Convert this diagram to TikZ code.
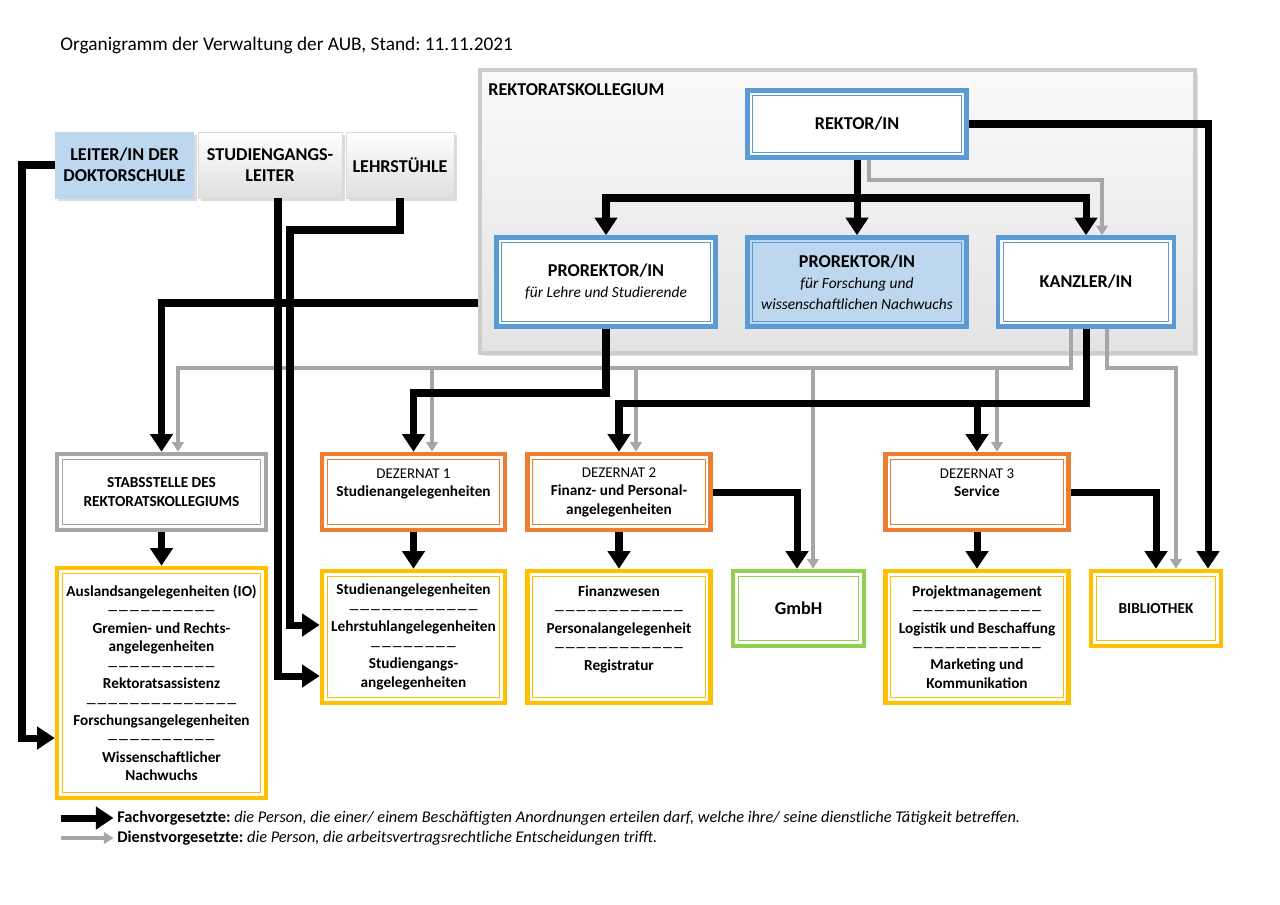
\documentclass[tikz,border=0pt]{standalone}
\usepackage{fontspec}
\setmainfont{Carlito}
\usetikzlibrary{arrows.meta,shadows}
\frenchspacing

\definecolor{rkblue}{HTML}{5B9BD5}
\definecolor{rkbluefill}{HTML}{BDD7EE}
\definecolor{dezorange}{HTML}{ED7D31}
\definecolor{unityellow}{HTML}{FFC000}
\definecolor{gmbhgreen}{HTML}{92D050}
\definecolor{stabgray}{HTML}{A5A5A5}
\definecolor{dienstgray}{HTML}{A6A6A6}

\newcommand{\trenn}[1]{{\fontsize{6.8}{10.5}\selectfont #1}}

\tikzset{
  fach/.style={line width=4pt, -{Triangle[width=12.5pt,length=10pt]}},
  dienst/.style={draw=dienstgray, line width=1.9pt, -{Triangle[width=6.5pt,length=5.5pt]}},
  dbox/.style={draw=#1, fill=white, line width=2.6pt, inner sep=0pt, align=center,
    path picture={\draw[#1, line width=0.6pt]
      ([shift={(2.9pt,-2.9pt)}]path picture bounding box.north west) rectangle
      ([shift={(-2.9pt,2.9pt)}]path picture bounding box.south east);}},
  topbox/.style={minimum height=1.32cm, inner sep=0pt, align=center, draw=gray!30,
    top color=white, bottom color=gray!25,
    drop shadow={shadow xshift=1.6pt, shadow yshift=-1.6pt, fill=gray!55}},
  lab/.style={font=\bfseries\fontsize{10.3}{12}\selectfont},
  unit/.style={font=\bfseries\fontsize{8.7}{10.5}\selectfont},
  legtext/.style={anchor=west, inner sep=0pt, font=\fontsize{9.3}{11}\selectfont}
}

\begin{document}
\begin{tikzpicture}[x=0.02cm, y=-0.02cm]
\path[use as bounding box, fill=white] (0,0) rectangle (1280,904);

\node[anchor=west, inner sep=0pt, font=\fontsize{11}{13}\selectfont] (title) at (60,45)
  {Organigramm der Verwaltung der AUB, Stand: 11.11.2021};

% Rektoratskollegium
\node[draw=gray!40, line width=2.2pt, top color=gray!4, bottom color=gray!22,
  minimum width=14.3cm, minimum height=5.66cm,
  drop shadow={shadow xshift=1.5pt, shadow yshift=-2pt, fill=gray!50}] (kollegium) at (837.5,211.5) {};
\node[anchor=west, inner sep=0pt, lab] (kolltitle) at (488,90) {REKTORATSKOLLEGIUM};

\node[lab, dbox=rkblue, minimum width=4.38cm, minimum height=1.34cm] (rektor) at (857,124) {REKTOR/IN};
\node[lab, dbox=rkblue, minimum width=4.38cm, minimum height=1.78cm] (prolehre) at (606,282)
  {PROREKTOR/IN\\ \mdseries\itshape\fontsize{8.8}{10.5}\selectfont für Lehre und Studierende};
\node[lab, dbox=rkblue, fill=rkbluefill, minimum width=4.38cm, minimum height=1.78cm] (proforsch) at (857,282)
  {PROREKTOR/IN\\ \mdseries\itshape\fontsize{8.8}{10.5}\selectfont für Forschung und\\
   \mdseries\itshape\fontsize{8.8}{10.5}\selectfont wissenschaftlichen Nachwuchs};
\node[lab, dbox=rkblue, minimum width=3.52cm, minimum height=1.78cm] (kanzler) at (1086,282) {KANZLER/IN};

% links oben
\node[lab, topbox, draw=none, top color=rkbluefill, bottom color=rkbluefill, minimum width=2.78cm] (doktor) at (124.5,165)
  {LEITER/IN DER\\ DOKTORSCHULE};
\node[lab, topbox, minimum width=2.88cm] (sgleiter) at (270,165) {STUDIENGANGS-\\ LEITER};
\node[lab, topbox, minimum width=2.16cm] (lehrst) at (400,165) {LEHRSTÜHLE};

% Stabsstelle und Dezernate
\node[unit, dbox=stabgray, minimum width=4.18cm, minimum height=1.52cm] (stab) at (161.5,492)
  {STABSSTELLE DES\\ REKTORATSKOLLEGIUMS};
\node[unit, dbox=unityellow, minimum width=4.18cm, minimum height=4.6cm] (stabunits) at (161.5,683)
  {Auslandsangelegenheiten (IO)\\ \trenn{——————————}\\ Gremien- und Rechts-\\ angelegenheiten\\ \trenn{——————————}\\
   Rektoratsassistenz\\ \trenn{——————————————}\\ Forschungsangelegenheiten\\ \trenn{——————————}\\ Wissenschaftlicher\\ Nachwuchs};

\node[unit, dbox=dezorange, minimum width=3.66cm, minimum height=1.52cm] (dez1) at (413.5,492)
  {\mdseries\fontsize{8.5}{10.5}\selectfont DEZERNAT 1\\ Studienangelegenheiten\\ \mbox{}};
\node[unit, dbox=unityellow, minimum width=3.66cm, minimum height=2.64cm] (dez1units) at (413.5,637)
  {Studienangelegenheiten\\ \trenn{————————————}\\ Lehrstuhlangelegenheiten\\ \trenn{————————}\\ Studiengangs-\\ angelegenheiten};

\node[unit, dbox=dezorange, minimum width=3.66cm, minimum height=1.52cm] (dez2) at (619,492)
  {\mdseries\fontsize{8.5}{10.5}\selectfont DEZERNAT 2\\ Finanz- und Personal-\\ angelegenheiten};
\node[unit, dbox=unityellow, minimum width=3.66cm, minimum height=2.64cm] (dez2units) at (619,637)
  {Finanzwesen\\ \trenn{————————————}\\ Personalangelegenheit\\ \trenn{————————————}\\ Registratur\\ \mbox{}};

\node[lab, dbox=gmbhgreen, minimum width=2.62cm, minimum height=1.5cm] (gmbh) at (798.5,608.5) {GmbH};

\node[unit, dbox=dezorange, minimum width=3.66cm, minimum height=1.52cm] (dez3) at (977,492)
  {\mdseries\fontsize{8.5}{10.5}\selectfont DEZERNAT 3\\ Service\\ \mbox{}};
\node[unit, dbox=unityellow, minimum width=3.66cm, minimum height=2.64cm] (dez3units) at (977,637)
  {Projektmanagement\\ \trenn{————————————}\\ Logistik und Beschaffung\\ \trenn{————————————}\\ Marketing und\\ Kommunikation};

\node[unit, dbox=unityellow, minimum width=2.6cm, minimum height=1.5cm] (biblio) at (1156,608.5) {BIBLIOTHEK};

% Dienstvorgesetzte
\draw[dienst] (rektor.south -| 869,0) |- (1102,180) -- (kanzler.north -| 1102,0);
\foreach \x/\n in {178/stab,432/dez1,636/dez2,813/gmbh,997/dez3}
  \draw[dienst] (kanzler.south -| 1071,0) |- (\x,368) -- (\n.north -| \x,0);
\draw[dienst] (kanzler.south -| 1107,0) |- (1176,368) -- (biblio.north -| 1176,0);

% Fachvorgesetzte
\draw[fach] (rektor.south) -- (proforsch.north);
\foreach \n in {prolehre,kanzler}
  \draw[fach] (rektor.south) |- (\n.north |- 0,198) -- (\n.north);
\draw[fach] (rektor.east) -| (biblio.north -| 1208,0);
\draw[fach] (kollegium.west |- 0,303) -| (stab.north);
\draw[fach] (prolehre.south) |- (dez1.north |- 0,393) -- (dez1.north);
\foreach \n in {dez2,dez3}
  \draw[fach] (kanzler.south) |- (\n.north |- 0,403) -- (\n.north);
\foreach \a/\b in {stab/stabunits,dez1/dez1units,dez2/dez2units,dez3/dez3units}
  \draw[fach] (\a) -- (\b);
\draw[fach] (dez2.east) -| (gmbh.north -| 797,0);
\draw[fach] (dez3.east) -| (biblio.north);
\draw[fach] (doktor.west) -| (22,738) -- (stabunits.west |- 0,738);
\draw[fach] (sgleiter.south -| 278,0) |- (dez1units.west |- 0,676);
\draw[fach] (lehrst.south) |- (290,230) |- (dez1units.west |- 0,625);

% Legende
\node[legtext] (legfach) at (117,818) {\textbf{Fachvorgesetzte:} \textit{die Person, die einer/ einem Beschäftigten Anordnungen erteilen darf, welche ihre/ seine dienstliche Tätigkeit betreffen.}};
\node[legtext] (legdienst) at (117,838) {\textbf{Dienstvorgesetzte:} \textit{die Person, die arbeitsvertragsrechtliche Entscheidungen trifft.}};
\draw[fach] ([xshift=-32pt]legfach.west) -- ([xshift=-2pt]legfach.west);
\draw[dienst, line width=2.3pt] ([xshift=-32pt]legdienst.west) -- ([xshift=-2pt]legdienst.west);
\end{tikzpicture}
\end{document}
